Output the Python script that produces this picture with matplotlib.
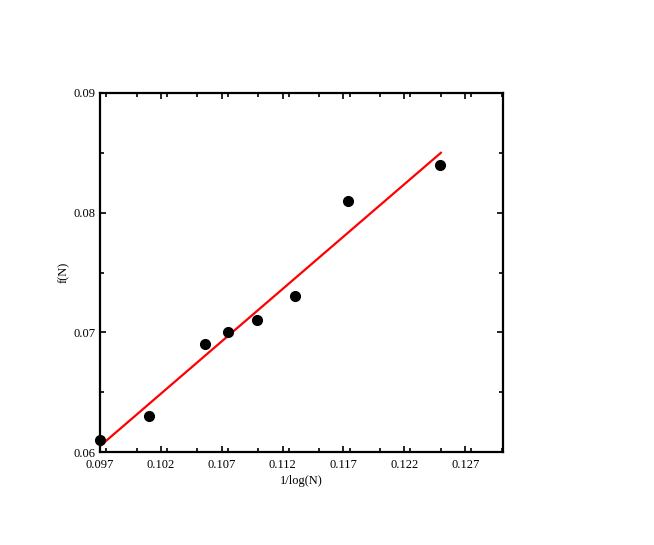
import matplotlib
matplotlib.use('Agg')
from matplotlib import pyplot as plt
from matplotlib.ticker import MultipleLocator
import numpy as np

plt.rcParams['font.family'] = ['Liberation Serif', 'DejaVu Serif']

# measured points
inv_log_n = [0.0970, 0.1010, 0.1056, 0.1075, 0.1099, 0.1130, 0.1174, 0.1249]
f_n = [0.061, 0.063, 0.069, 0.070, 0.071, 0.073, 0.081, 0.084]

# fitted line ends
fit_x = [0.0970, 0.1250]
fit_y = [0.0605, 0.0850]

x_ticks = [0.097, 0.102, 0.107, 0.112, 0.117, 0.122, 0.127]
y_ticks = [0.06, 0.07, 0.08, 0.09]

fig = plt.figure(figsize=(6.54, 5.45), dpi=100)
ax = fig.add_axes([0.153, 0.1706, 0.616, 0.6588])

ax.plot(fit_x, fit_y, color='red', lw=1.6, zorder=2)
ax.plot(inv_log_n, f_n, 'o', color='black', ms=7, zorder=3, clip_on=False)

ax.set_xlim(0.097, 0.1301)
ax.set_ylim(0.06, 0.09)
ax.set_xticks(x_ticks)
ax.set_xticklabels([str(t) for t in x_ticks])
ax.set_yticks(y_ticks)
ax.set_yticklabels([str(t) for t in y_ticks])
ax.xaxis.set_minor_locator(MultipleLocator(0.0025))
ax.yaxis.set_minor_locator(MultipleLocator(0.005))

ax.tick_params(which='both', direction='in', top=True, right=True,
               labelsize=9, width=1.2)
ax.tick_params(which='major', length=4)
ax.tick_params(axis='x', which='major', pad=5)
ax.tick_params(axis='y', which='major', pad=3)
ax.tick_params(which='minor', length=3)
for s in ax.spines.values():
    s.set_linewidth(1.6)

ax.set_xlabel('1/log(N)', fontsize=9, labelpad=3)
ax.set_ylabel('f(N)', fontsize=9, labelpad=3)

plt.savefig('out.png', dpi=100)
